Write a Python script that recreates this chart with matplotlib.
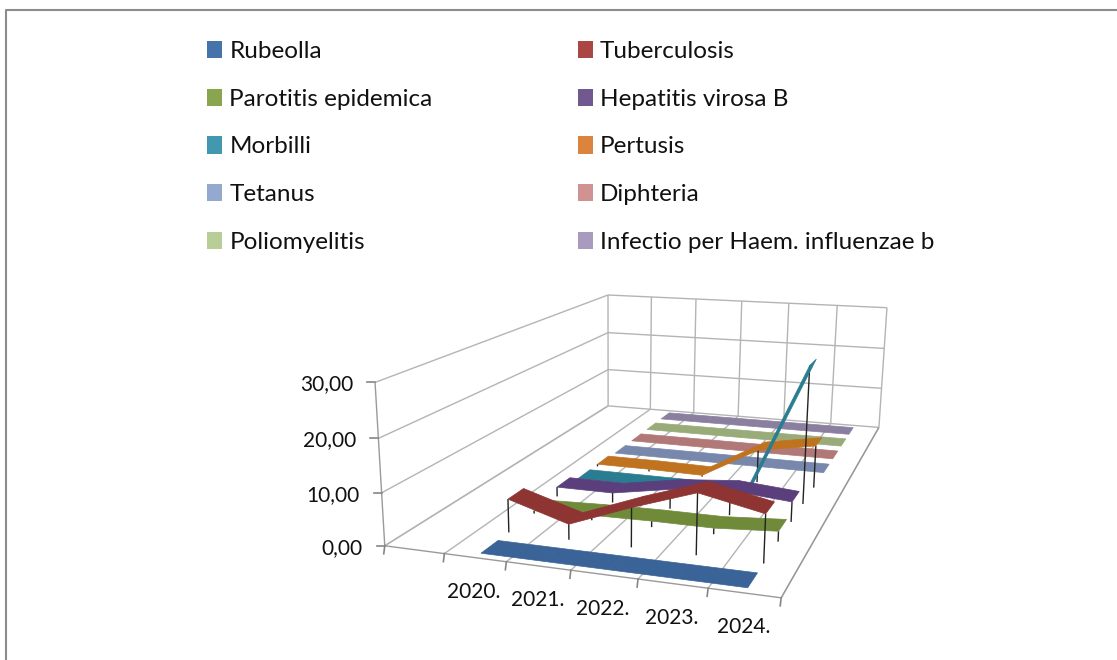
import numpy as np
import matplotlib
matplotlib.use("Agg")
import matplotlib.pyplot as plt
from matplotlib.patches import Patch, Polygon

plt.rcParams['font.family'] = ['Lato', 'DejaVu Sans']

# first category on the axis is empty in the original workbook
years = ["", "2020.", "2021.", "2022.", "2023.", "2024."]
zticks = [0, 10, 20, 30]
zlabels = ["0,00", "10,00", "20,00", "30,00"]

names = ["Rubeolla", "Tuberculosis", "Parotitis epidemica", "Hepatitis virosa B", "Morbilli",
         "Pertusis", "Tetanus", "Diphteria", "Poliomyelitis", "Infectio per Haem. influenzae b"]

rubeolla = [0.0, 0.0, 0.0, 0.0, 0.0]
tuberculosis = [6.5, 3.0, 7.5, 11.5, 9.0]
parotitis = [0.6, 1.0, 1.2, 1.2, 2.0]
hepatitis_b = [2.0, 2.0, 4.0, 5.0, 4.0]
morbilli = [0.5, 0.5, 0.5, 0.5, 28.0]
pertusis = [0.5, 0.5, 0.3, 7.0, 9.0]
tetanus = [0.0, 0.0, 0.0, 0.0, 0.0]
diphteria = [0.0, 0.0, 0.0, 0.0, 0.0]
polio = [0.0, 0.0, 0.0, 0.0, 0.0]
hib = [0.0, 0.0, 0.0, 0.0, 0.0]
series = [rubeolla, tuberculosis, parotitis, hepatitis_b, morbilli,
          pertusis, tetanus, diphteria, polio, hib]

legend_cols = ['#4674AA', '#AA4643', '#89A54E', '#71588F', '#4198AF',
               '#DB843D', '#93A9CF', '#D19392', '#B9CD96', '#A99BBD']
ribbon_cols = ['#3A6397', '#8E3432', '#6F8B3A', '#5A3F7C', '#2A7D91',
               '#C0731F', '#7888AC', '#B07877', '#98AB79', '#8B7FA0']

nx, ny, zmax = len(years), len(series), zticks[-1]

# box corners on the canvas, the camera is solved from these
corners = [((0, 0, 0), (385, 546)), ((nx, 0, 0), (781, 598)), ((0, ny, 0), (608, 406)),
           ((nx, ny, 0), (879, 427)), ((0, 0, zmax), (375, 382)), ((0, ny, zmax), (608, 295)),
           ((nx, ny, zmax), (887, 308))]
rows = []
rhs = []
for (x, y, z), (u, v) in corners:
    rows.append([x, y, z, 1, 0, 0, 0, 0, -u*x, -u*y, -u*z])
    rows.append([0, 0, 0, 0, x, y, z, 1, -v*x, -v*y, -v*z])
    rhs += [u, v]
P = np.append(np.linalg.lstsq(np.array(rows, float), np.array(rhs, float), rcond=None)[0], 1).reshape(3, 4)


def proj(x, y, z):
    q = P @ np.array([x, y, z, 1.0])
    return q[0]/q[2], q[1]/q[2]


fig = plt.figure(figsize=(11.17, 6.6), dpi=100)
ax = fig.add_axes([0, 0, 1, 1])
ax.set_xlim(0, 1117)
ax.set_ylim(660, 0)
ax.axis('off')


def seg(a, b, col='#B4B4B4', lw=1.0, zo=1):
    pa, pb = proj(*a), proj(*b)
    ax.plot([pa[0], pb[0]], [pa[1], pb[1]], color=col, lw=lw, zorder=zo, solid_capstyle='butt')


# outer chart frame, the right and bottom sides are cut off in the original
ax.plot([6, 6, 1117], [660, 10, 10], color='#8C8C8C', lw=1.5, zorder=1)

# walls and floor
for z in zticks:
    seg((0, 0, z), (0, ny, z))
    seg((0, ny, z), (nx, ny, z))
for i in range(nx+1):
    seg((i, 0, 0), (i, ny, 0))
    seg((i, ny, 0), (i, ny, zmax))
seg((0, 0, 0), (nx, 0, 0), col='#9A9A9A')
seg((nx, 0, 0), (nx, ny, 0), col='#9A9A9A')
seg((0, 0, 0), (0, 0, zmax), col='#9A9A9A')

# tick marks
for i in range(nx+1):
    u, v = proj(i, 0, 0)
    ax.plot([u, u-1], [v, v+8], color='#868686', lw=1.2, zorder=1)
for z, lab in zip(zticks, zlabels):
    u, v = proj(0, 0, z)
    ax.plot([u, u-8], [v, v], color='#868686', lw=1.2, zorder=1)
    ax.text(u-22, v+2, lab, ha='right', va='center', fontsize=15, color='#111111')
for i, lab in enumerate(years):
    u, v = proj(i+0.5, 0, 0)
    ax.text(u-1, v+34, lab, ha='center', va='center', fontsize=15, color='#111111')

# ribbons back to front, each series sits in its own depth slot
half = 0.3
for d in range(ny-1, -1, -1):
    vals = series[d]
    zo = 10 + (ny-d)*2
    yc = d + 0.5
    for k, v in enumerate(vals):
        if v > 0.2:
            seg((k+1.5, yc-half, 0), (k+1.5, yc-half, v), col='#222222', lw=1.0, zo=zo)
    for k in range(len(vals)-1):
        quad = [proj(k+1.5, yc-half, vals[k]), proj(k+2.5, yc-half, vals[k+1]),
                proj(k+2.5, yc+half, vals[k+1]), proj(k+1.5, yc+half, vals[k])]
        ax.add_patch(Polygon(quad, closed=True, facecolor=ribbon_cols[d], edgecolor=ribbon_cols[d],
                             lw=0.5, zorder=zo+1))

# legend fills columns first, the original reads row by row
order = [0, 2, 4, 6, 8, 1, 3, 5, 7, 9]
handles = [Patch(facecolor=legend_cols[i], edgecolor='none') for i in order]
leg = fig.legend(handles, [names[i] for i in order], ncol=2, frameon=False, fontsize=17.5,
                 loc='upper left', bbox_to_anchor=(207/1117, 1-41/660), borderaxespad=0, borderpad=0,
                 handlelength=0.62, handleheight=0.72, handletextpad=0.3,
                 labelspacing=1.09, columnspacing=5.97)
for t in leg.get_texts():
    t.set_color('#111111')

fig.savefig('out.png', dpi=100)
